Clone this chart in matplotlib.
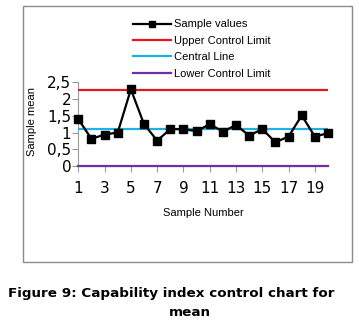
import matplotlib
matplotlib.use("Agg")
import matplotlib.pyplot as plt
from matplotlib.patches import Rectangle
from matplotlib.ticker import FuncFormatter

samples = list(range(1, 21))
sample_values = [1.40, 0.81, 0.94, 1.00, 2.29, 1.25, 0.76, 1.10, 1.10, 1.04,
                 1.25, 1.03, 1.22, 0.91, 1.10, 0.71, 0.88, 1.51, 0.88, 0.98]
ucl = 2.28
central = 1.10
lcl = 0.0
x_ticks = [1, 3, 5, 7, 9, 11, 13, 15, 17, 19]
y_ticks = [0, 0.5, 1, 1.5, 2, 2.5]
labels = ["Sample values", "Upper Control Limit", "Central Line", "Lower Control Limit"]

W, H = 359, 329
fig = plt.figure(figsize=(W / 100, H / 100), dpi=100)

def fx(px):
    return px / W

def fy(py):
    return 1 - py / H

# outer frame
fig.patches.append(Rectangle((fx(23), fy(262)), fx(352) - fx(23), fy(6) - fy(262),
                             transform=fig.transFigure, fill=False,
                             edgecolor="#8c8c8c", linewidth=1.0))

left, right, top, bottom = 78.3, 328.0, 82.3, 166.0
ax = fig.add_axes([fx(left), fy(bottom), fx(right) - fx(left), fy(top) - fy(bottom)])

l1, = ax.plot(samples, sample_values, color="black", lw=1.6, marker="s",
              markersize=6, clip_on=False, zorder=5)
l2, = ax.plot([samples[0], samples[-1]], [ucl, ucl], color="#e0191f", lw=1.6, zorder=3)
l3, = ax.plot([samples[0], samples[-1]], [central, central], color="#1cb2e6", lw=1.6, zorder=3)
l4, = ax.plot([samples[0], samples[-1]], [lcl, lcl], color="#7030a0", lw=1.6,
              clip_on=False, zorder=3)

ax.set_xlim(1, 20)
ax.set_ylim(0, 2.5)
ax.set_xticks(x_ticks)
ax.set_yticks(y_ticks)
ax.yaxis.set_major_formatter(FuncFormatter(lambda v, p: ("%g" % v).replace(".", ",")))
for s in ["top", "right"]:
    ax.spines[s].set_visible(False)
for s in ["left", "bottom"]:
    ax.spines[s].set_color("#999999")
    ax.spines[s].set_linewidth(0.8)
ax.tick_params(axis="both", colors="#999999", labelcolor="black", labelsize=11,
               length=4, width=0.8)
ax.tick_params(axis="y", pad=1)
ax.tick_params(axis="x", pad=7)
ax.set_facecolor("none")

fig.text(fx(32), fy(122), "Sample mean", rotation=90, ha="center", va="center",
         fontsize=8, family="Liberation Sans", zorder=10)
fig.text(fx(203), fy(213), "Sample Number", ha="center", va="center",
         fontsize=8, family="Liberation Sans")

leg = fig.legend([l1, l2, l3, l4], labels, loc="upper left",
                 bbox_to_anchor=(fx(129), fy(15)), frameon=False,
                 prop={"family": "Liberation Sans", "size": 8},
                 handlelength=3.4, handletextpad=0.25, labelspacing=0.58,
                 numpoints=1, markerscale=0.7, borderaxespad=0)

fig.text(fx(171), fy(294), "Figure 9: Capability index control chart for",
         ha="center", va="center", fontsize=9.7, fontweight="bold", family="DejaVu Sans")
fig.text(fx(190), fy(313), "mean",
         ha="center", va="center", fontsize=9.7, fontweight="bold", family="DejaVu Sans")

fig.savefig("out.png", dpi=100, facecolor="white")
